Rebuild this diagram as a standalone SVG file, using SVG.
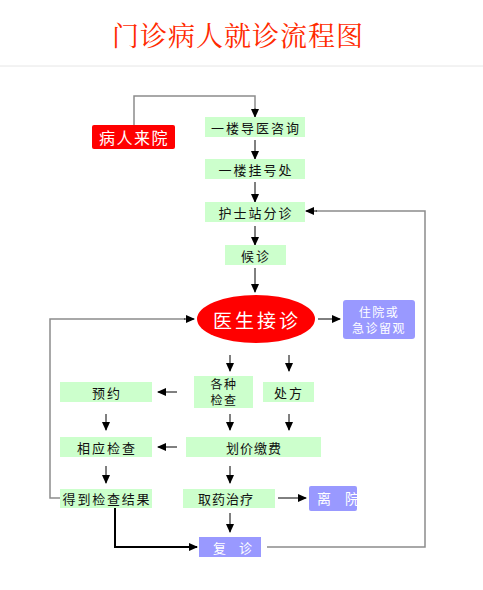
<svg xmlns="http://www.w3.org/2000/svg" width="483" height="590" viewBox="0 0 483 590">
<defs>
<marker id="ah" markerWidth="9" markerHeight="8" refX="8" refY="4" orient="auto" markerUnits="userSpaceOnUse">
<path d="M0,0 L9,4 L0,8 z" fill="#000"/>
</marker>
<style>
.t{font-family:"Noto Sans CJK SC","Noto Sans",sans-serif;font-size:13px;fill:#111;text-anchor:middle;dominant-baseline:central;letter-spacing:2px}
.g{fill:#ccffcc}
.b{fill:#9999ff}
.c{fill:none;stroke:#000;stroke-width:1}
.gr{fill:none;stroke:#8c8c8c;stroke-width:1.5}
</style>
</defs>
<rect width="483" height="590" fill="#fff"/>
<text x="238" y="34" style="font-family:'Noto Serif CJK SC','Liberation Serif','Noto Sans CJK SC',serif;font-size:27px;fill:#ff2a00;text-anchor:middle;dominant-baseline:central;letter-spacing:1px">门诊病人就诊流程图</text>
<line x1="0" y1="66" x2="483" y2="66" stroke="#e6e6e6" stroke-width="1"/>

<g id="connectors">
<path class="gr" d="M134,125 V96 H255 V108"/>
<path class="c" d="M255,108 V117" marker-end="url(#ah)"/>
<path class="c" d="M255,140 V159" marker-end="url(#ah)"/>
<path class="c" d="M255,182 V202" marker-end="url(#ah)"/>
<path class="c" d="M255,226 V245" marker-end="url(#ah)"/>
<path class="c" d="M255,268 V292" marker-end="url(#ah)"/>
<path class="c" d="M318,319 H340" marker-end="url(#ah)"/>
<path class="gr" d="M60,498 H50 V319 H185"/>
<path class="c" d="M184,319 H194" marker-end="url(#ah)"/>
<path class="gr" d="M267,547 H425 V211 H316"/>
<path class="c" d="M317,211 H306" marker-end="url(#ah)"/>
<path class="c" d="M230,355 V371" marker-end="url(#ah)"/>
<path class="c" d="M289,355 V371" marker-end="url(#ah)"/>
<path class="c" d="M177,392 H158" marker-end="url(#ah)"/>
<path class="c" d="M106,414 V430" marker-end="url(#ah)"/>
<path class="c" d="M230,414 V430" marker-end="url(#ah)"/>
<path class="c" d="M289,414 V430" marker-end="url(#ah)"/>
<path class="c" d="M177,447 H158" marker-end="url(#ah)"/>
<path class="c" d="M106,466 V483" marker-end="url(#ah)"/>
<path class="c" d="M230,466 V483" marker-end="url(#ah)"/>
<path class="c" d="M278,498 H306" marker-end="url(#ah)"/>
<path class="c" d="M230,513 V532" marker-end="url(#ah)"/>
<path class="c" d="M115,508 V547 H197" style="stroke-width:2" marker-end="url(#ah)"/>
</g>

<g id="n-arrive">
<rect x="92" y="125" width="83" height="24" rx="2" fill="#ff0000"/>
<text x="134" y="137" class="t" style="fill:#fff;font-size:16px;letter-spacing:1.5px">病人来院</text>
</g>
<g id="n-guide">
<rect class="g" x="205" y="117" width="100" height="20"/>
<text x="256" y="127" class="t">一楼导医咨询</text>
</g>
<g id="n-register">
<rect class="g" x="205" y="159" width="100" height="20"/>
<text x="256" y="169" class="t">一楼挂号处</text>
</g>
<g id="n-triage">
<rect class="g" x="205" y="202" width="100" height="20"/>
<text x="256" y="212" class="t">护士站分诊</text>
</g>
<g id="n-wait">
<rect class="g" x="225" y="245" width="61" height="20"/>
<text x="256" y="255" class="t">候诊</text>
</g>
<g id="n-doctor">
<ellipse cx="256" cy="319" rx="59" ry="24" fill="#ff0000"/>
<text x="257" y="319" class="t" style="fill:#fff;font-size:19px;letter-spacing:3px">医生接诊</text>
</g>
<g id="n-hospital">
<rect class="b" x="343" y="300" width="72" height="39" rx="3"/>
<text x="379" y="311.5" class="t" style="fill:#fff;font-size:12px;letter-spacing:1.5px">住院或</text>
<text x="379" y="327.5" class="t" style="fill:#fff;font-size:12px;letter-spacing:1.5px">急诊留观</text>
</g>
<g id="n-appoint">
<rect class="g" x="60" y="382" width="92" height="20"/>
<text x="107" y="392" class="t">预约</text>
</g>
<g id="n-exams">
<rect class="g" x="194" y="376" width="59" height="32"/>
<text x="224" y="383.5" class="t" style="font-size:12px;letter-spacing:1.5px">各种</text>
<text x="224" y="399.5" class="t" style="font-size:12px;letter-spacing:1.5px">检查</text>
</g>
<g id="n-rx">
<rect class="g" x="263" y="382" width="51" height="20"/>
<text x="289" y="392" class="t">处方</text>
</g>
<g id="n-relexam">
<rect class="g" x="60" y="437" width="92" height="20"/>
<text x="107" y="447" class="t">相应检查</text>
</g>
<g id="n-pay">
<rect class="g" x="186" y="437" width="135" height="20"/>
<text x="254" y="447" class="t" style="letter-spacing:1px">划价缴费</text>
</g>
<g id="n-result">
<rect class="g" x="60" y="489" width="92" height="19"/>
<text x="107" y="498" class="t" style="letter-spacing:1.8px">得到检查结果</text>
</g>
<g id="n-medicine">
<rect class="g" x="183" y="489" width="92" height="19"/>
<text x="226" y="498" class="t" style="letter-spacing:1px">取药治疗</text>
</g>
<g id="n-leave">
<rect class="b" x="309" y="486" width="48" height="25" rx="2"/>
<text x="317" y="498" class="t" style="fill:#fff;font-size:14px;text-anchor:start;letter-spacing:0px">离　院</text>
</g>
<g id="n-revisit">
<rect class="b" x="199" y="537" width="62" height="20"/>
<text x="213" y="547" class="t" style="fill:#fff;text-anchor:start;letter-spacing:0px">复　诊</text>
</g>
</svg>
